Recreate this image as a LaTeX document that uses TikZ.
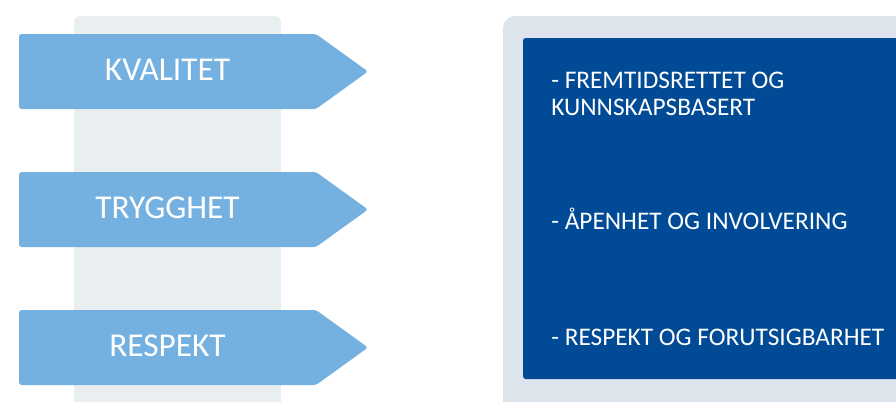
\documentclass[tikz,border=0pt]{standalone}
\usepackage{fontspec}
\setmainfont{Carlito}
\usetikzlibrary{positioning}
\definecolor{columngrey}{HTML}{E9EEF1}
\definecolor{panelgrey}{HTML}{DEE4EC}
\definecolor{tagblue}{HTML}{75B1E0}
\definecolor{deepblue}{HTML}{004A96}
\tikzset{tag/.style={fill=tagblue, rounded corners=2pt},
  taglabel/.style={text=white, font=\fontsize{25}{29}\selectfont, inner sep=0pt, anchor=base},
  point/.style={text=white, font=\fontsize{19}{20.25}\selectfont, inner sep=0pt,
    anchor=base west, align=left}}

\begin{document}
\begin{tikzpicture}[x=0.75pt, y=-0.75pt]
      \useasboundingbox (0,0) rectangle (896,401);

      % background column and panel
      \fill[columngrey, rounded corners=4pt] (74,16) rectangle (281,420);
      \fill[panelgrey, rounded corners=9pt] (503,16) rectangle (930,420);
      \fill[deepblue, rounded corners=2pt] (523,38) rectangle (920,379);

      % value tags
      \foreach \y/\name/\word in {71.5/kvalitet/KVALITET, 209.5/trygghet/TRYGGHET,
        347.5/respekt/RESPEKT}
      {
        \fill[tag] (19,\y-37.5) -- (316,\y-37.5) -- (368,\y) -- (316,\y+37.5)
          -- (19,\y+37.5) -- cycle;
        \node[taglabel] (\name) at (167.5,\y+8.5) {\word};
      }

      % principles (base is the last line)
      \node[point] (fremtid) at (551,115) {- FREMTIDSRETTET OG\\KUNNSKAPSBASERT};
      \node[point] (aapenhet) at (551,229) {- ÅPENHET OG INVOLVERING};
      \node[point] (forutsig) at (551,345) {- RESPEKT OG FORUTSIGBARHET};
    \end{tikzpicture}
\end{document}
